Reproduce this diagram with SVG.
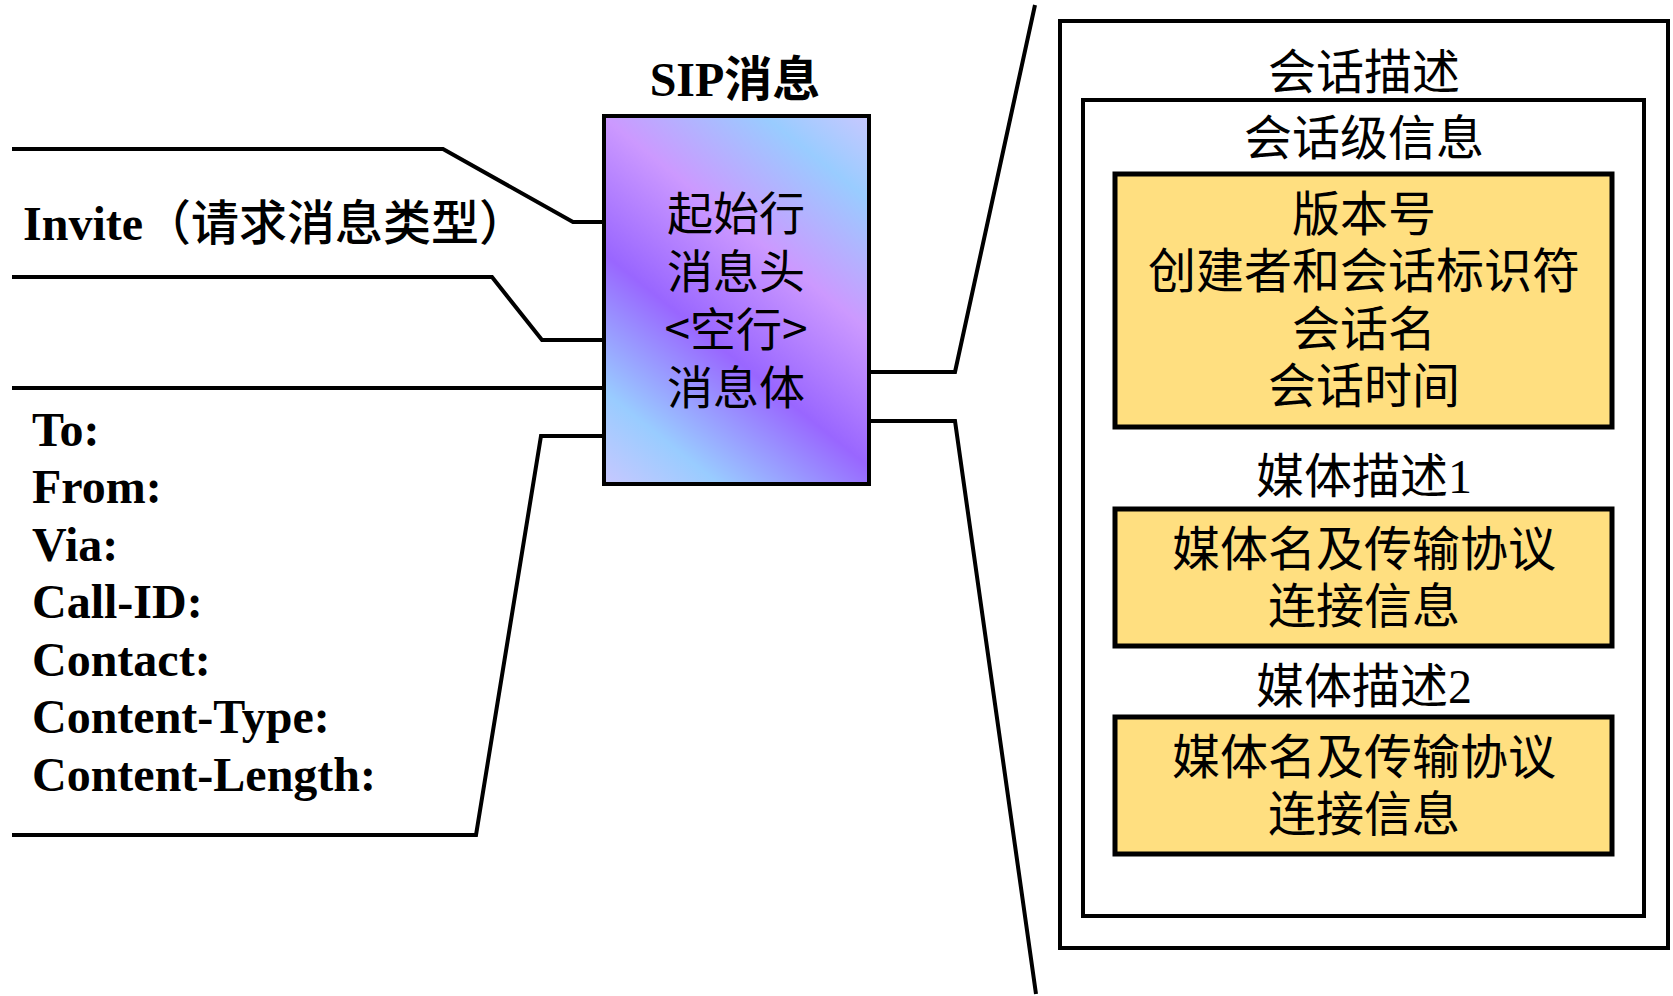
<svg xmlns="http://www.w3.org/2000/svg" width="1673" height="996" viewBox="0 0 1673 996">
<style>
.ln{fill:none;stroke:#000;stroke-width:4}
.box{stroke:#000;stroke-width:4}
.bl{font-family:"Liberation Serif","Noto Sans CJK SC",serif;font-weight:bold;font-size:48px;fill:#000}
.cj{font-family:"Liberation Serif","Noto Sans CJK SC",serif;font-size:48px;fill:#000;text-anchor:middle}
.mid{font-family:"Noto Sans CJK SC",sans-serif;font-size:46px;fill:#000;text-anchor:middle}
.yl{fill:#FFDF80;stroke:#000;stroke-width:5}
</style>
<defs>
<linearGradient id="g" gradientUnits="userSpaceOnUse" x1="607" y1="483" x2="887" y2="134">
<stop offset="0" stop-color="#c6c8ff"/>
<stop offset="0.155" stop-color="#99ccff"/>
<stop offset="0.395" stop-color="#9966ff"/>
<stop offset="0.633" stop-color="#cc99ff"/>
<stop offset="0.86" stop-color="#99ccff"/>
<stop offset="1" stop-color="#c6c8ff"/>
</linearGradient>
</defs>
<rect width="1673" height="996" fill="#fff"/>
<g id="connectors">
<polyline class="ln" points="12,149 443,149 573,222 604,222"/>
<polyline class="ln" points="12,277 492,277 542,340 604,340"/>
<polyline class="ln" points="12,388 604,388"/>
<polyline class="ln" points="604,436 541,436 476,835 12,835"/>
<polyline class="ln" points="869,372 955,372 1035,5"/>
<polyline class="ln" points="869,421 955,421 1036,994"/>
</g>
<g id="sip">
<text class="bl" x="735" y="96" text-anchor="middle" font-size="47">SIP消息</text>
<rect class="box" x="604" y="116" width="265" height="368" fill="url(#g)"/>
<text class="mid" x="736" y="230">起始行</text>
<text class="mid" x="736" y="288">消息头</text>
<text class="mid" x="736" y="346">&lt;空行&gt;</text>
<text class="mid" x="736" y="404">消息体</text>
</g>
<g id="invite">
<text class="bl" x="23" y="240" font-size="46">Invite<tspan font-weight="500">（请求消息类型）</tspan></text>
</g>
<g id="headers">
<text class="bl" x="32" y="446">To:</text>
<text class="bl" x="32" y="503">From:</text>
<text class="bl" x="32" y="561">Via:</text>
<text class="bl" x="32" y="618">Call-ID:</text>
<text class="bl" x="32" y="676">Contact:</text>
<text class="bl" x="32" y="733">Content-Type:</text>
<text class="bl" x="32" y="791">Content-Length:</text>
</g>
<g id="session">
<rect class="box" x="1060" y="21" width="608" height="927" fill="none" stroke-width="5"/>
<text class="cj" x="1364" y="89">会话描述</text>
</g>
<g id="session-level">
<rect class="box" x="1083" y="100" width="561" height="816" fill="none" stroke-width="5"/>
<text class="cj" x="1364" y="155">会话级信息</text>
</g>
<g id="session-info">
<rect class="yl" x="1115" y="174" width="497" height="253"/>
<text class="cj" x="1364" y="231">版本号</text>
<text class="cj" x="1364" y="288">创建者和会话标识符</text>
<text class="cj" x="1364" y="346">会话名</text>
<text class="cj" x="1364" y="403">会话时间</text>
</g>
<g id="media1">
<text class="cj" x="1364" y="493">媒体描述1</text>
<rect class="yl" x="1115" y="509" width="497" height="137"/>
<text class="cj" x="1364" y="566">媒体名及传输协议</text>
<text class="cj" x="1364" y="623">连接信息</text>
</g>
<g id="media2">
<text class="cj" x="1364" y="703">媒体描述2</text>
<rect class="yl" x="1115" y="717" width="497" height="137"/>
<text class="cj" x="1364" y="774">媒体名及传输协议</text>
<text class="cj" x="1364" y="831">连接信息</text>
</g>
</svg>
